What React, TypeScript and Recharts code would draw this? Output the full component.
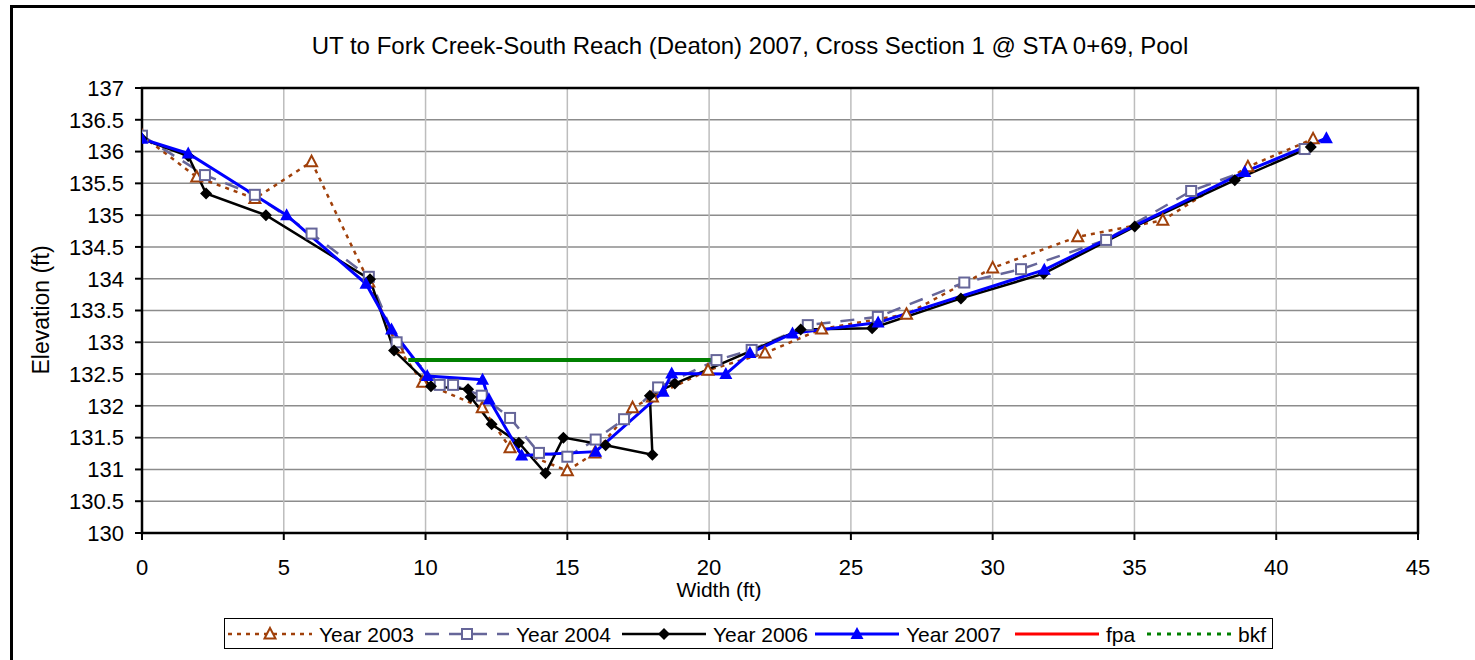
import React from 'react';
import { ComposedChart, Line, XAxis, YAxis, CartesianGrid, ReferenceArea, Label } from 'recharts';

const xTicks = [0, 5, 10, 15, 20, 25, 30, 35, 40, 45];
const yTicks = [130, 130.5, 131, 131.5, 132, 132.5, 133, 133.5, 134, 134.5, 135, 135.5, 136, 136.5, 137];

const year2003X = [0, 1.93, 3.98, 5.98, 8.0, 9.03, 9.9, 12.0, 12.98, 15.0, 15.97, 17.3, 18.0, 19.96, 21.97, 23.97, 26.96, 30.0, 33.0, 36.0, 39.0, 41.3];
const year2003Y = [136.25, 135.6, 135.26, 135.84, 133.95, 132.91, 132.37, 131.97, 131.34, 130.98, 131.26, 131.97, 132.14, 132.56, 132.83, 133.21, 133.44, 134.17, 134.66, 134.92, 135.76, 136.2];

const year2004X = [0, 2.22, 3.98, 5.98, 8.0, 8.98, 10.5, 10.97, 11.98, 12.98, 14.0, 15.0, 16.0, 17.0, 18.2, 20.26, 21.5, 23.48, 25.95, 29.0, 31.0, 34.0, 37.0, 41.0];
const year2004Y = [136.25, 135.63, 135.32, 134.71, 134.03, 133.0, 132.33, 132.33, 132.16, 131.81, 131.26, 131.2, 131.47, 131.79, 132.29, 132.72, 132.88, 133.27, 133.4, 133.94, 134.15, 134.61, 135.38, 136.04];

const year2006X = [0, 1.63, 2.26, 4.37, 8.04, 8.89, 10.19, 11.5, 11.59, 12.33, 13.29, 14.23, 14.86, 16.35, 18.0, 17.91, 18.79, 23.23, 25.75, 28.88, 31.8, 35.01, 38.54, 41.22];
const year2006Y = [136.2, 135.93, 135.34, 135.0, 133.99, 132.87, 132.31, 132.26, 132.14, 131.71, 131.42, 130.94, 131.5, 131.38, 131.23, 132.16, 132.35, 133.2, 133.22, 133.69, 134.08, 134.82, 135.55, 136.07];

const year2007X = [0, 1.63, 5.1, 7.9, 8.8, 10.06, 12.01, 12.24, 13.39, 16.0, 18.38, 18.68, 20.59, 21.44, 22.94, 25.96, 31.82, 38.89, 41.77];
const year2007Y = [136.2, 135.97, 135.0, 133.92, 133.2, 132.47, 132.41, 132.1, 131.22, 131.28, 132.22, 132.51, 132.5, 132.83, 133.14, 133.31, 134.14, 135.68, 136.21];

const fpaX: number[] = [];
const fpaY: number[] = [];

const bkfX = [9.39, 20.44];
const bkfY = [132.72, 132.72];

const toPoints = (xs: number[], ys: number[]) => xs.map((x, i) => ({ x, y: ys[i] }));

const d2003 = toPoints(year2003X, year2003Y);
const d2004 = toPoints(year2004X, year2004Y);
const d2006 = toPoints(year2006X, year2006Y);
const d2007 = toPoints(year2007X, year2007Y);
const dFpa = toPoints(fpaX, fpaY);
const dBkf = toPoints(bkfX, bkfY);

const C2003 = '#A0400A';
const C2004 = '#666699';
const C2006 = '#000000';
const C2007 = '#0000FF';
const CFPA = '#FF0000';
const CBKF = '#008000';

const FONT = '"Liberation Sans", Arial, sans-serif';

const triHollow = (cx: number, cy: number, key?: string) => (
  <path key={key} d={`M${cx},${cy - 6} L${cx + 5.5},${cy + 4.5} L${cx - 5.5},${cy + 4.5} Z`} fill="#ffffff" stroke={C2003} strokeWidth={2} />
);
const squareHollow = (cx: number, cy: number, key?: string) => (
  <rect key={key} x={cx - 5} y={cy - 5} width={10} height={10} fill="#ffffff" stroke={C2004} strokeWidth={2} />
);
const diamond = (cx: number, cy: number, key?: string) => (
  <path key={key} d={`M${cx},${cy - 6} L${cx + 6},${cy} L${cx},${cy + 6} L${cx - 6},${cy} Z`} fill={C2006} />
);
const triFilled = (cx: number, cy: number, key?: string) => (
  <path key={key} d={`M${cx},${cy - 7} L${cx + 6.5},${cy + 5} L${cx - 6.5},${cy + 5} Z`} fill={C2007} />
);

const mkDot = (fn: (cx: number, cy: number, key?: string) => React.ReactElement, name: string) =>
  (p: any) => fn(p.cx, p.cy, `${name}-${p.index}`);

const legendItems = [
  { label: 'Year 2003', color: C2003, dash: '4 5', width: 2.5, marker: 'tri' },
  { label: 'Year 2004', color: C2004, dash: '14 10', width: 2.5, marker: 'sq' },
  { label: 'Year 2006', color: C2006, dash: '', width: 2.5, marker: 'dia' },
  { label: 'Year 2007', color: C2007, dash: '', width: 3, marker: 'trif' },
  { label: 'fpa', color: CFPA, dash: '', width: 3, marker: '' },
  { label: 'bkf', color: CBKF, dash: '4 6', width: 3, marker: '' },
];
const legendX = [228, 425, 622, 815, 1015, 1147];

function LegendBox() {
  return (
    <svg width={1050} height={32} style={{ position: 'absolute', left: 224, top: 618 }}>
      <rect x={0.5} y={0.5} width={1048} height={30} fill="#ffffff" stroke="#000000" strokeWidth={1} />
      {legendItems.map((it, i) => {
        const x0 = legendX[i] - 224;
        const cy = 16;
        const mx = x0 + 42;
        return (
          <g key={it.label}>
            <line x1={x0} y1={cy} x2={x0 + 84} y2={cy} stroke={it.color} strokeWidth={it.width} strokeDasharray={it.dash || undefined} />
            {it.marker === 'tri' && triHollow(mx, cy)}
            {it.marker === 'sq' && squareHollow(mx, cy)}
            {it.marker === 'dia' && diamond(mx, cy)}
            {it.marker === 'trif' && triFilled(mx, cy)}
            <text x={x0 + 91} y={cy + 8} fontSize={21} fontFamily={FONT} fill="#000000">{it.label}</text>
          </g>
        );
      })}
    </svg>
  );
}

export default function App() {
  return (
    <div style={{ position: 'absolute', left: 0, top: 0, width: 1475, height: 660, overflow: 'hidden', background: '#ffffff', fontFamily: FONT }}>
      <div style={{ position: 'absolute', left: 10, top: 5, width: 1600, height: 800, border: '3px solid #000000', boxSizing: 'border-box' }} />
      <div style={{ position: 'absolute', left: 0, width: 1500, top: 32, textAlign: 'center', fontSize: 24, color: '#000', whiteSpace: 'nowrap' }}>
        UT to Fork Creek-South Reach (Deaton) 2007, Cross Section 1 @ STA 0+69, Pool
      </div>
      <div style={{ position: 'absolute', left: 0, top: 0 }}>
        <ComposedChart width={1475} height={660} margin={{ top: 88, right: 57, bottom: 67, left: 82 }} style={{ fontFamily: FONT }}>
          <CartesianGrid horizontal={true} vertical={false} stroke="#8c8c8c" strokeWidth={1.5} />
          <CartesianGrid horizontal={false} vertical={true} stroke="#bdbdbd" strokeWidth={1.5} />
          <XAxis
            type="number"
            dataKey="x"
            domain={[0, 45]}
            ticks={xTicks}
            interval={0}
            allowDataOverflow
            tickSize={7}
            tickMargin={19}
            height={60}
            stroke="#000000"
            strokeWidth={2}
            tick={{ fontSize: 22, fill: '#000000' }}
          >
            <Label content={() => (
              <text x={719} y={597} textAnchor="middle" fontSize={21} fontFamily={FONT} fill="#000000">Width (ft)</text>
            )} />
          </XAxis>
          <YAxis
            type="number"
            domain={[130, 137]}
            ticks={yTicks}
            interval={0}
            allowDataOverflow
            tickSize={7}
            tickMargin={11}
            width={60}
            stroke="#000000"
            strokeWidth={2}
            tick={{ fontSize: 22, fill: '#000000' }}
          >
            <Label content={() => (
              <text x={49} y={310} transform="rotate(-90 49 310)" textAnchor="middle" fontSize={23} fontFamily={FONT} fill="#000000">Elevation (ft)</text>
            )} />
          </YAxis>
          <ReferenceArea x1={0} x2={45} y1={130} y2={137} fill="none" fillOpacity={0} stroke="#000000" strokeWidth={2.5} ifOverflow="visible" />
          <Line data={d2003} dataKey="y" name="Year 2003" type="linear" stroke={C2003} strokeWidth={2.5} strokeDasharray="4 5" dot={mkDot(triHollow, 'a')} activeDot={false} isAnimationActive={false} />
          <Line data={d2004} dataKey="y" name="Year 2004" type="linear" stroke={C2004} strokeWidth={2.5} strokeDasharray="14 10" dot={mkDot(squareHollow, 'b')} activeDot={false} isAnimationActive={false} />
          <Line data={d2006} dataKey="y" name="Year 2006" type="linear" stroke={C2006} strokeWidth={2.5} dot={mkDot(diamond, 'c')} activeDot={false} isAnimationActive={false} />
          <Line data={d2007} dataKey="y" name="Year 2007" type="linear" stroke={C2007} strokeWidth={3} dot={mkDot(triFilled, 'd')} activeDot={false} isAnimationActive={false} />
          <Line data={dFpa} dataKey="y" name="fpa" type="linear" stroke={CFPA} strokeWidth={3} dot={false} activeDot={false} isAnimationActive={false} />
          <Line data={dBkf} dataKey="y" name="bkf" type="linear" stroke={CBKF} strokeWidth={4} dot={false} activeDot={false} isAnimationActive={false} />
        </ComposedChart>
      </div>
      <LegendBox />
    </div>
  );
}
